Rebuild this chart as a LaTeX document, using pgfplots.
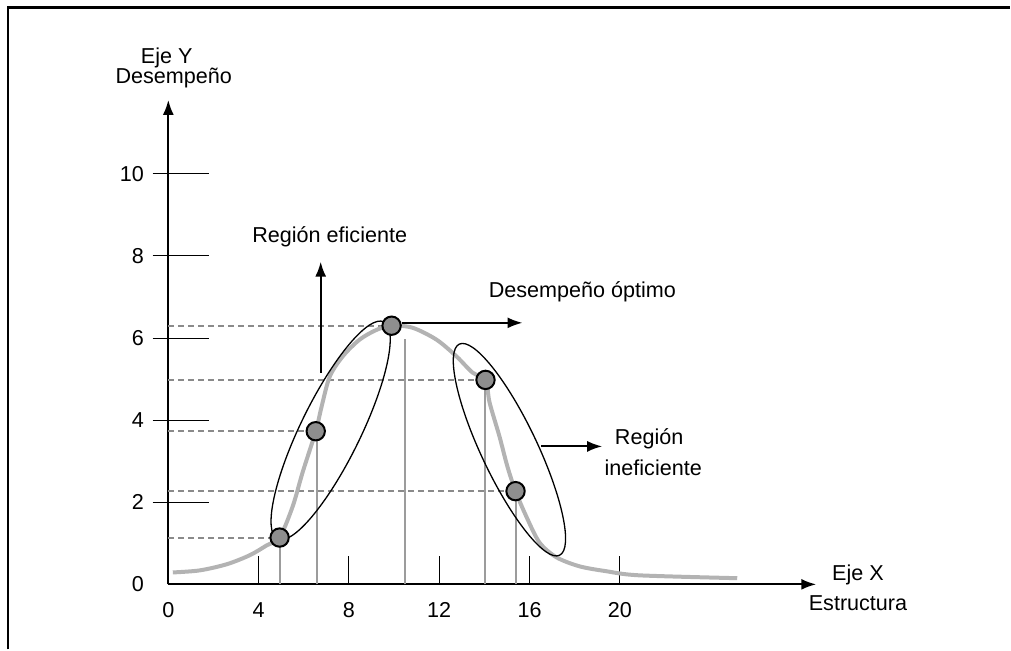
\documentclass[border=0pt]{standalone}
\usepackage{fontspec}
\setmainfont{Liberation Sans}
\usepackage{pgfplots}
\pgfplotsset{compat=1.18}
\usetikzlibrary{arrows.meta}

\definecolor{curvegray}{HTML}{B3B3B3}
\definecolor{dotgray}{HTML}{8E8E8E}
\definecolor{linegray}{HTML}{9C9C9C}
\definecolor{dashgray}{HTML}{8A8A8A}

\begin{document}
\fontsize{10.8}{13}\selectfont
\begin{tikzpicture}[arr/.style={line width=1pt, -{Latex[length=7.5pt,width=5.5pt]}}]
  % page and frame
  \path (-84.25pt,-32.5pt) rectangle (421.25pt,292.5pt);
  \draw[line width=1.1pt] (-80.25pt,-32.5pt) -- (-80.25pt,288.75pt) -- (421.25pt,288.75pt);

  \begin{axis}[
    at={(0pt,0pt)}, anchor=origin,
    x=11.3pt, y=20.55pt,
    xmin=0, xmax=28.7, ymin=0, ymax=11.8,
    axis lines=left,
    axis line style={line width=1pt, -{Latex[length=7.5pt,width=5.5pt]}},
    xtick={0,4,8,12,16,20},
    ytick={0,2,4,6,8,10},
    tick align=inside,
    major tick length=14pt,
    xtick style={black, line width=0.5pt},
    ytick style={draw=none},
    xticklabel style={anchor=base, inner sep=0pt, yshift=-16.5pt},
    yticklabel style={anchor=east, inner sep=0pt, xshift=-12pt},
    /pgf/number format/assume math mode=true,
    clip=false,
    ]

    % y tick lines
    \addplot[black, line width=0.5pt] coordinates {(-0.7,2) (1.8,2)};
    \addplot[black, line width=0.5pt] coordinates {(-0.7,4) (1.8,4)};
    \addplot[black, line width=0.5pt] coordinates {(-0.7,6) (1.8,6)};
    \addplot[black, line width=0.5pt] coordinates {(-0.7,8) (1.8,8)};
    \addplot[black, line width=0.5pt] coordinates {(-0.7,10) (1.8,10)};

    % dashed levels
    \addplot[dashgray, line width=1pt, dash pattern=on 3pt off 2pt] coordinates {(0,1.14) (4.93,1.14)};
    \addplot[dashgray, line width=1pt, dash pattern=on 3pt off 2pt] coordinates {(0,3.73) (6.55,3.73)};
    \addplot[dashgray, line width=1pt, dash pattern=on 3pt off 2pt] coordinates {(0,6.3) (9.89,6.3)};
    \addplot[dashgray, line width=1pt, dash pattern=on 3pt off 2pt] coordinates {(0,4.98) (14.05,4.98)};
    \addplot[dashgray, line width=1pt, dash pattern=on 3pt off 2pt] coordinates {(0,2.27) (15.38,2.27)};

    % vertical lines
    \addplot[linegray, line width=1pt] coordinates {(4.93,0) (4.93,1.14)};
    \addplot[linegray, line width=1pt] coordinates {(6.6,0) (6.6,3.73)};
    \addplot[linegray, line width=1pt] coordinates {(10.5,0) (10.5,5.98)};
    \addplot[linegray, line width=1pt] coordinates {(14.02,0) (14.02,4.98)};
    \addplot[linegray, line width=1pt] coordinates {(15.38,0) (15.38,2.27)};

    % performance curve
    \addplot[curvegray, line width=2pt, smooth, tension=0.5] coordinates {
      (0.2,0.29) (1.39,0.34) (2.59,0.49) (3.61,0.71) (4.36,0.95) (4.93,1.14)
      (5.51,1.9) (5.95,2.73) (6.53,3.73) (6.79,4.33) (7.15,5.06) (7.72,5.55)
      (8.47,5.96) (9.23,6.2) (9.89,6.3) (10.82,6.25) (11.88,5.96) (12.77,5.55)
      (13.47,5.16) (14.05,4.98) (14.23,4.43) (14.67,3.6) (15.02,2.87) (15.38,2.27)
      (15.86,1.65) (16.44,1.02) (17.19,0.66) (18.21,0.44) (19.4,0.32) (20.86,0.22)
      (25.2,0.15)
    };

    % regions
    \draw[line width=0.65pt, rotate around={63.9:(axis cs:7.19,3.75)}]
      (axis cs:7.19,3.75) ellipse [x radius=60.5pt, y radius=15pt];
    \draw[line width=0.65pt, rotate around={115.4:(axis cs:15.11,3.28)}]
      (axis cs:15.11,3.28) ellipse [x radius=58.5pt, y radius=14pt];

    \draw[arr] (axis cs:6.75,5.16) -- (axis cs:6.75,7.86);
    \draw[arr] (axis cs:10.33,6.37) -- (axis cs:15.69,6.37);
    \draw[arr] (axis cs:16.53,3.36) -- (axis cs:19.22,3.36);

    % points
    \addplot[only marks, mark=*, mark size=4.6pt,
      mark options={fill=dotgray, draw=black, line width=1pt}] coordinates {
      (4.93,1.14) (6.53,3.73) (9.89,6.3) (14.05,4.98) (15.38,2.27)
    };

    % texts
    \node[anchor=base] at (axis cs:-0.07,12.68) {Eje Y};
    \node[anchor=base] at (axis cs:0.24,12.19) {Desempeño};
    \node[anchor=base] at (axis cs:7.15,8.32) {Región eficiente};
    \node[anchor=base] at (axis cs:18.34,6.98) {Desempeño óptimo};
    \node[anchor=base] at (axis cs:21.3,3.41) {Región};
    \node[anchor=base] at (axis cs:21.48,2.65) {ineficiente};
    \node[anchor=base] at (axis cs:30.55,0.10) {Eje X};
    \node[anchor=base] at (axis cs:30.55,-0.63) {Estructura};
  \end{axis}
\end{tikzpicture}
\end{document}
